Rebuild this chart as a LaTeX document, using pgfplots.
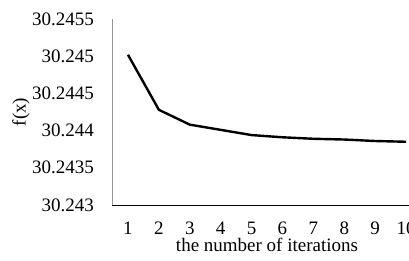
\documentclass[border=0pt]{standalone}
\usepackage{fontspec}
\setmainfont{Liberation Serif}
\usepackage{pgfplots}
\pgfplotsset{compat=1.18}
\begin{document}
\fontsize{19pt}{23pt}\selectfont
\begin{tikzpicture}
\useasboundingbox (-112.5pt,-56pt) rectangle (296.5pt,205pt);
\clip (-112.5pt,-56pt) rectangle (296.5pt,205pt);
\begin{axis}[
  at={(0pt,0pt)}, anchor=origin,
  scale only axis,
  width=309pt, height=186pt,
  xmin=0.5, xmax=10.5,
  ymin=30.243, ymax=30.2455,
  axis x line*=bottom, axis y line*=left,
  x axis line style={black, line width=0.8pt},
  y axis line style={gray!85, line width=0.8pt},
  major tick length=0pt,
  xtick={1,2,3,4,5,6,7,8,9,10},
  xticklabels={1,2,3,4,5,6,7,8,9,10},
  ytick={30.243,30.2435,30.244,30.2445,30.245,30.2455},
  yticklabels={30.243,30.2435,30.244,30.2445,30.245,30.2455},
  xticklabel style={anchor=base, inner sep=0pt, yshift=-29.5pt},
  yticklabel style={anchor=east, inner sep=0pt, xshift=-18.5pt},
  xlabel={the number of iterations},
  ylabel={f(x)},
  every axis x label/.style={at={(axis description cs:0.5,0)}, anchor=base, yshift=-46.3pt},
  every axis y label/.style={at={(axis description cs:0,0.5)}, xshift=-91.5pt, rotate=90, anchor=center},
  clip=false,
]
\addplot[black, line width=2.4pt, line join=round] coordinates {
(1,30.24502) (2,30.24428) (3,30.24408) (4,30.24401) (5,30.24394)
(6,30.24391) (7,30.24389) (8,30.24388) (9,30.24386) (10,30.24385)
};
\end{axis}
\end{tikzpicture}
\end{document}
